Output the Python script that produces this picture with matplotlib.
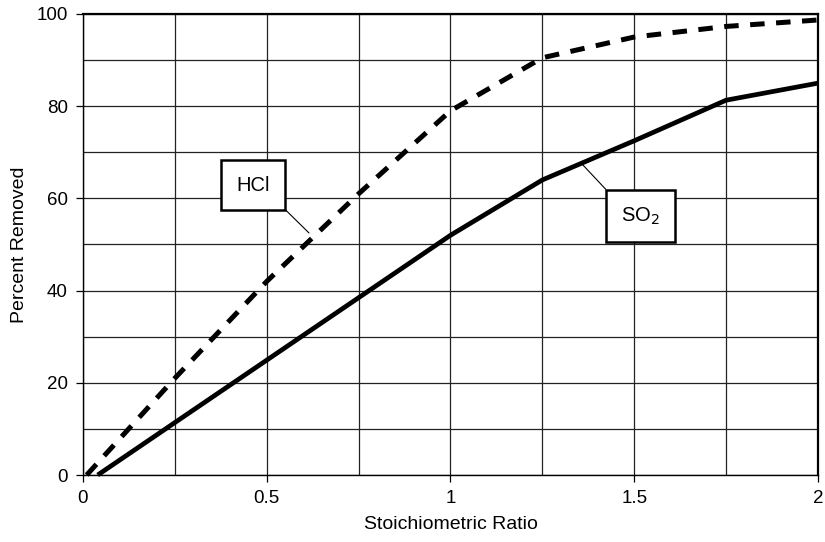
import matplotlib
matplotlib.use("Agg")
import matplotlib.pyplot as plt
from matplotlib.ticker import MultipleLocator

plt.rcParams['font.family'] = ['Liberation Sans', 'DejaVu Sans']

# Removal efficiency vs. stoichiometric ratio
hcl_ratio = [0.01, 0.25, 0.5, 0.75, 1.0, 1.25, 1.5, 1.75, 2.0]
hcl_removed = [0, 21, 42, 61, 79, 90.5, 95, 97.3, 98.7]

so2_ratio = [0.04, 1.0, 1.25, 1.5, 1.75, 2.0]
so2_removed = [0, 52, 64, 72.5, 81.3, 85]

x_ticks = [0, 0.5, 1, 1.5, 2]
x_tick_labels = ["0", "0.5", "1", "1.5", "2"]
y_ticks = [0, 20, 40, 60, 80, 100]

fig = plt.figure(figsize=(8.25, 5.42), dpi=100)
ax = fig.add_axes([0.1006, 0.1236, 0.8909, 0.8506])

ax.set_xlim(0, 2)
ax.set_ylim(0, 100)
ax.set_xticks(x_ticks)
ax.set_xticklabels(x_tick_labels)
ax.set_yticks(y_ticks)
ax.xaxis.set_minor_locator(MultipleLocator(0.25))
ax.yaxis.set_minor_locator(MultipleLocator(10))
ax.grid(True, which='both', color='#222222', linewidth=0.9)
ax.set_axisbelow(True)
ax.tick_params(which='major', direction='out', length=5, width=0.9,
               labelsize=13.5, colors='black', pad=6)
ax.tick_params(which='minor', length=0)

for side, sp in ax.spines.items():
    sp.set_color('black')
    sp.set_linewidth(1.0 if side in ('left', 'bottom') else 1.6)

ax.plot(hcl_ratio, hcl_removed, color='black', linewidth=3.6,
        linestyle=(0, (2.9, 2.3)), dash_capstyle='butt', solid_joinstyle='miter',
        clip_on=False, zorder=3)
ax.plot(so2_ratio, so2_removed, color='black', linewidth=3.4,
        solid_capstyle='butt', solid_joinstyle='miter', clip_on=False, zorder=3)

box = dict(boxstyle='square,pad=0.75', facecolor='white', edgecolor='black', linewidth=1.8)
ax.annotate("HCl", xy=(0.615, 52.5), xytext=(0.463, 62.9), fontsize=14.5,
            ha='center', va='center', bbox=box,
            arrowprops=dict(arrowstyle='-', color='black', linewidth=0.8,
                            shrinkA=0, shrinkB=0, relpos=(1, 0)), zorder=4)
ax.annotate("SO$_2$", xy=(1.355, 67.7), xytext=(1.516, 56.2), fontsize=14.5,
            ha='center', va='center', bbox=box,
            arrowprops=dict(arrowstyle='-', color='black', linewidth=0.8,
                            shrinkA=0, shrinkB=0, relpos=(0, 1)), zorder=4)

ax.set_xlabel("Stoichiometric Ratio", fontsize=14, labelpad=6)
ax.set_ylabel("Percent Removed", fontsize=14, labelpad=6)

fig.savefig("out.png", dpi=100)
